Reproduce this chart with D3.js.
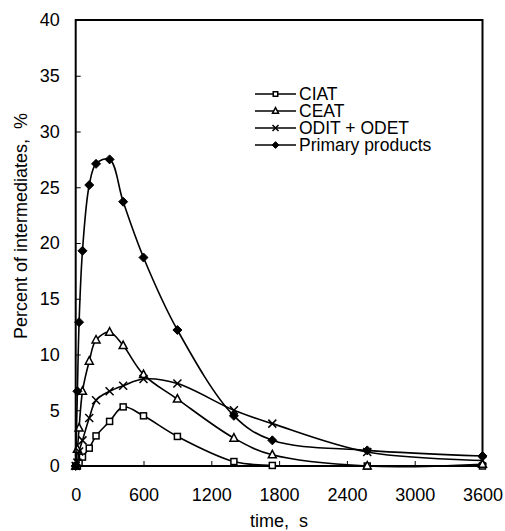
<!DOCTYPE html>
<html>
<head>
<meta charset="utf-8">
<script src="https://cdn.jsdelivr.net/npm/d3@7"></script>
<style>
  body { margin: 0; background: #fff; }
  text { font-family: "Liberation Sans", Arial, sans-serif; white-space: pre; }
</style>
</head>
<body>
<div id="chart_div"></div>
<script>
// data (time in s, percent)
var times   = [0, 15, 30, 60, 120, 180, 300, 420, 600, 900, 1400, 1740, 2580, 3600];
var ciat    = [0, 0, 0.3, 0.8, 1.6, 2.7, 4.0, 5.3, 4.5, 2.65, 0.4, 0.05, 0, 0];
var ceat    = [0, 1.5, 3.4, 6.7, 9.4, 11.3, 12.0, 10.8, 8.2, 6.0, 2.5, 1.0, 0, 0.15];
var odit    = [0, 0.3, 1.3, 2.3, 4.3, 5.9, 6.7, 7.2, 7.8, 7.4, 5.0, 3.8, 1.25, 0.5];
var primary = [0, 6.7, 12.9, 19.3, 25.2, 27.1, 27.5, 23.7, 18.7, 12.2, 4.5, 2.3, 1.4, 0.9];
var seriesNames = ["CIAT", "CEAT", "ODIT + ODET", "Primary products"];
var seriesValues = [ciat, ceat, odit, primary];
var markers = ["square", "triangle", "cross", "diamond"];
var xTicks = [0, 600, 1200, 1800, 2400, 3000, 3600];
var yTicks = [0, 5, 10, 15, 20, 25, 30, 35, 40];

var W = 505, H = 531;
var margin = {top: 20, right: 22.5, bottom: 65, left: 75.7},
    width = W - margin.left - margin.right,
    height = H - margin.top - margin.bottom;

var svg = d3.select("#chart_div").append("svg")
    .attr("width", W)
    .attr("height", H);
var g = svg.append("g")
    .attr("transform", "translate(" + margin.left + "," + margin.top + ")");

var x = d3.scaleLinear().domain([0, 3600]).range([0, width]);
var y = d3.scaleLinear().domain([0, 40]).range([height, 0]);

// axes with inward ticks
var xAxis = g.append("g")
    .attr("transform", "translate(0," + height + ")")
    .call(d3.axisBottom(x).tickValues(xTicks).tickFormat(d3.format("d")).tickSize(-5).tickPadding(22));
var yAxis = g.append("g")
    .call(d3.axisLeft(y).tickValues(yTicks).tickFormat(d3.format("d")).tickSize(-5).tickPadding(16));
[xAxis, yAxis].forEach(function(a) {
  a.select(".domain").remove();
  a.selectAll("line").attr("stroke", "#000").attr("stroke-width", 1);
  a.selectAll("text").attr("font-size", 18).attr("fill", "#000")
    .style("font-family", '"Liberation Sans", Arial, sans-serif');
});

// frame
g.append("rect")
    .attr("width", width).attr("height", height)
    .attr("fill", "none").attr("stroke", "#000").attr("stroke-width", 2);

var line = d3.line()
    .x(function(d) { return x(d.t); })
    .y(function(d) { return y(d.v); })
    .curve(d3.curveCatmullRom.alpha(0.5));

function drawMarker(sel, type, s) {
  s = s || 1;
  if (type == "square") {
    sel.append("rect").attr("x", -3 * s).attr("y", -3 * s).attr("width", 6 * s).attr("height", 6 * s)
      .attr("fill", "#fff").attr("stroke", "#000").attr("stroke-width", 1.5);
  } else if (type == "triangle") {
    sel.append("path").attr("d", "M0," + (-4.5 * s) + "L" + (4 * s) + "," + (3 * s) + "L" + (-4 * s) + "," + (3 * s) + "Z")
      .attr("fill", "#fff").attr("stroke", "#000").attr("stroke-width", 1.5);
  } else if (type == "cross") {
    var c = 4 * s;
    sel.append("path").attr("d", "M" + -c + "," + -c + "L" + c + "," + c + "M" + -c + "," + c + "L" + c + "," + -c)
      .attr("fill", "none").attr("stroke", "#000").attr("stroke-width", 1.5);
  } else {
    var r = 4.5 * s;
    sel.append("path").attr("d", "M0," + -r + "L" + r + ",0L0," + r + "L" + -r + ",0Z")
      .attr("fill", "#000").attr("stroke", "#000").attr("stroke-width", 1);
  }
}

seriesValues.forEach(function(vals, i) {
  var data = times.map(function(t, j) { return {t: t, v: vals[j]}; });
  g.append("path")
    .datum(data)
    .attr("d", line)
    .attr("fill", "none")
    .attr("stroke", "#000")
    .attr("stroke-width", 1.6);
  g.selectAll(".m" + i)
    .data(data)
    .enter().append("g")
    .attr("class", "m" + i)
    .attr("transform", function(d) { return "translate(" + x(d.t) + "," + y(d.v) + ")"; })
    .each(function() { drawMarker(d3.select(this), markers[i]); });
});

// legend
var legend = svg.append("g").attr("transform", "translate(255,94)");
seriesNames.forEach(function(name, i) {
  var row = legend.append("g").attr("transform", "translate(0," + (i * 17) + ")");
  row.append("line").attr("x1", 0).attr("x2", 41).attr("y1", 0).attr("y2", 0)
    .attr("stroke", "#000").attr("stroke-width", 1.6);
  var m = row.append("g").attr("transform", "translate(20.5,0)");
  drawMarker(m, markers[i], 0.75);
  row.append("text").attr("x", 44).attr("y", 0).attr("dy", "0.35em")
    .attr("font-size", 17.5).text(name);
});

// axis titles
svg.append("text")
    .attr("x", margin.left + width / 2).attr("y", 527)
    .attr("text-anchor", "middle").attr("font-size", 18)
    .text("time,  s");
svg.append("text")
    .attr("transform", "translate(27,226) rotate(-90)")
    .attr("text-anchor", "middle").attr("font-size", 18)
    .text("Percent of intermediates,  %");
</script>
</body>
</html>
